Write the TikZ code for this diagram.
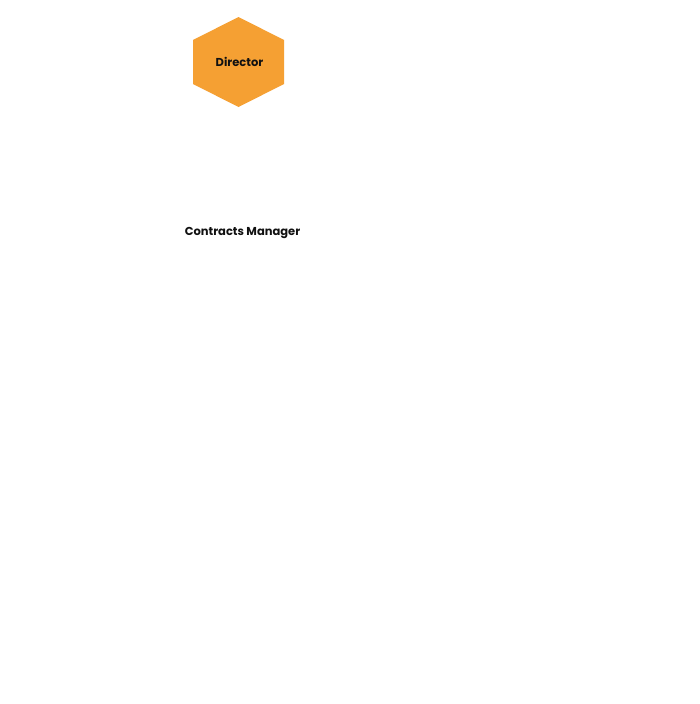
\documentclass[tikz,border=0pt]{standalone}
\usepackage{fontspec}
\setmainfont{Poppins}
\definecolor{hexorange}{HTML}{F5A033}
\definecolor{txt}{HTML}{111111}
\tikzset{
  lbl/.style={font=\bfseries\fontsize{11.5}{13}\selectfont, text=txt, inner sep=0pt},
}
\begin{document}
\begin{tikzpicture}[x=1pt,y=-1pt]
\useasboundingbox[fill=white] (0,0) rectangle (700,704);
\fill[hexorange] (238.5,17) -- (284,40) -- (284,84) -- (238.5,107) -- (193,84) -- (193,40) -- cycle;
\node[lbl] (director) at (239.5,62) {Director};
\node[lbl] (cm) at (242.5,232.5) {Contracts Manager};
\end{tikzpicture}
\end{document}
